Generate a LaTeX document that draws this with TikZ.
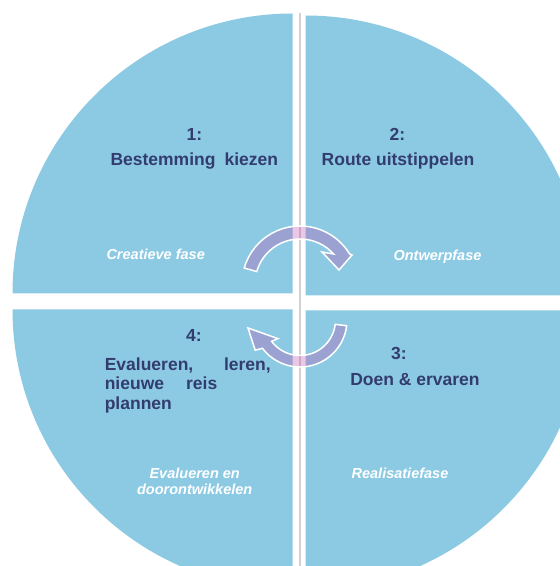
\documentclass[tikz,border=0pt]{standalone}
\usepackage{fontspec}
\setmainfont{Liberation Sans}
\usepackage{xcolor}
\usepackage{tikz}
\usetikzlibrary{calc}
\definecolor{kwadrant}{RGB}{140,202,228}
\definecolor{titelblauw}{RGB}{50,60,110}
\definecolor{pijlpaars}{RGB}{190,70,170}

\begin{document}
\begin{tikzpicture}[x=1pt,y=1pt,
    kwart/.style={fill=kwadrant},
    pijl/.style={fill=pijlpaars,fill opacity=.3,draw=white,line width=1.5pt},
    titel/.style={text=titelblauw,inner sep=0pt,
      font=\fontsize{17.5}{19.5}\selectfont\bfseries},
    fase/.style={text=white,inner sep=0pt,align=center,
      font=\fontsize{14.5}{16}\selectfont\bfseries\itshape}]
    \clip (0,0) rectangle (560,566);
    \fill[white] (0,0) rectangle (560,566);
    \fill[kwart] (292.5,272.5) -- ++(180:280pt) arc[start angle=180,end angle=90,radius=280pt] -- cycle;
    \fill[kwart] (305.5,270.5) -- ++(90:280pt) arc[start angle=90,end angle=0,radius=280pt] -- cycle;
    \fill[kwart] (292.5,256.5) -- ++(180:280pt) arc[start angle=180,end angle=270,radius=280pt] -- cycle;
    \fill[kwart] (305.5,255.5) -- ++(0:280pt) arc[start angle=0,end angle=-90,radius=280pt] -- cycle;
    \draw[black!18,line width=1.2pt] (300,553) -- (300,0);
    \coordinate (m1) at (300,282);
    \coordinate (m2) at (300,246);
    \path[pijl] ($(m1)+(164:58pt)$) arc[start angle=164,end angle=31.1,radius=58pt]
      -- (352,311) -- (339,296) -- (322,314)
      -- ($(m1)+(41.8:45pt)$) arc[start angle=41.8,end angle=164,radius=45pt] -- cycle;
    \path[pijl] ($(m2)+(-7:47pt)$) arc[start angle=-7,end angle=-143,radius=47pt]
      -- (255.2,215.8) -- (248,238) -- (277.8,227.4)
      -- ($(m2)+(-143:35.5pt)$) arc[start angle=-143,end angle=-7,radius=35.5pt] -- cycle;
    \node[titel] (n1) at (194.5,432) {1:};
    \node[titel] (t1) at (194.3,405.3) {Bestemming\hspace{9pt}kiezen};
    \node[titel] (n2) at (397.5,432) {2:};
    \node[titel] (t2) at (398,405.3) {Route uitstippelen};
    \node[titel] (n3) at (399,212.4) {3:};
    \node[titel] (t3) at (415,186.4) {Doen \& ervaren};
    \node[titel] (n4) at (194,230.3) {4:};
    \node[titel,anchor=north west,text width=166pt,align=left] (t4) at (104.6,208.5)
      {Evalueren,\hfill leren,\\ nieuwe\hspace{22pt}reis\\ plannen};
    \node[fase] (f1) at (155.7,311.7) {Creatieve fase};
    \node[fase] (f2) at (437.5,309) {Ontwerpfase};
    \node[fase] (f3) at (400,93) {Realisatiefase};
    \node[fase] (f4) at (194.7,85) {Evalueren en\\ doorontwikkelen};
\end{tikzpicture}
\end{document}
